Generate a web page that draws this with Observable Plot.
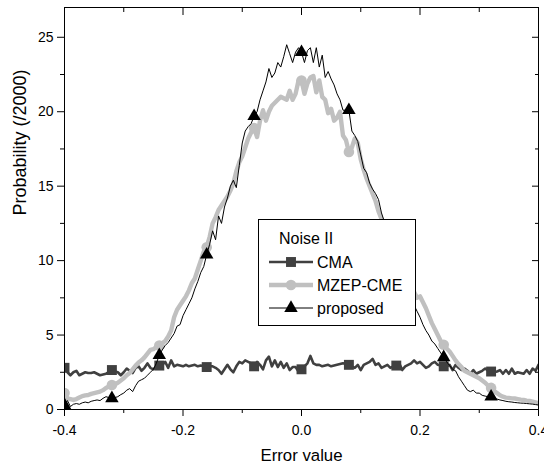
<!DOCTYPE html>
<html><head><meta charset="utf-8">
<script src="https://cdn.jsdelivr.net/npm/d3@7"></script>
<script src="https://cdn.jsdelivr.net/npm/@observablehq/plot@0.6"></script>
<style>
body{margin:0;background:#fff;font-family:"Liberation Sans",Arial,sans-serif;}
#wrap{position:relative;width:544px;height:469px;overflow:hidden;background:#fff;}
#legend{position:absolute;left:258px;top:219px;}
</style></head><body><div id="wrap"></div>
<script>
// Error value grid (step 0.005 from -0.4 to 0.4)
const errorValue = d3.range(161).map(i => +(-0.4 + i * 0.005).toFixed(3));

const cma = [
 2.8,2.5,2.3,2.5,2.6,2.3,2.4,2.5,2.45,2.45,
 2.5,2.4,2.3,2.35,2.4,2.5,2.65,2.55,2.5,2.3,
 2.5,2.75,2.6,2.45,2.8,2.9,2.6,2.8,3.1,2.8,
 2.7,2.9,2.95,3.0,3.2,2.8,3.3,2.9,3.0,2.95,
 2.9,3.0,2.9,2.95,3.0,2.9,2.95,2.9,2.85,2.9,
 2.9,2.8,2.65,2.4,2.7,3.0,2.7,2.5,2.9,3.2,
 3.1,3.3,3.2,3.1,2.9,3.2,3.0,2.7,3.3,3.55,
 2.9,3.3,2.85,3.2,2.8,3.1,2.65,2.85,2.85,2.55,
 2.7,2.9,3.1,3.6,3.1,3.0,3.0,2.9,2.95,3.0,
 2.9,2.95,3.0,3.05,3.1,3.05,3.0,2.9,2.8,3.0,
 2.65,3.0,3.1,3.2,3.4,3.0,3.1,2.8,2.9,3.0,
 2.8,2.9,2.95,3.1,2.65,2.9,3.0,3.1,3.3,3.1,
 3.2,3.0,2.8,2.9,3.1,3.2,3.0,2.95,2.9,2.9,
 3.0,2.65,3.0,2.8,2.65,2.75,2.6,2.4,2.65,2.4,
 2.5,2.6,2.75,2.6,2.55,2.5,2.55,2.65,2.4,2.65,
 2.4,2.75,2.4,2.5,2.45,2.4,2.65,2.4,2.75,2.6,
 3.0];

const mzep = [
 1.1,0.75,0.7,0.64,0.7,0.8,0.9,0.95,0.97,1.05,
 1.1,1.15,1.2,1.3,1.45,1.55,1.65,1.7,1.8,1.95,
 2.1,2.3,2.45,2.7,2.95,3.15,3.3,3.5,3.75,4.0,
 4.05,4.2,4.3,4.45,4.6,4.9,5.3,6.2,6.7,7.0,
 7.3,7.6,8.0,8.5,8.8,9.4,10.0,10.6,10.9,11.6,
 12.5,12.9,13.4,13.7,14.0,14.3,14.7,15.2,16.0,16.6,
 17.0,17.6,18.2,18.6,18.9,18.3,19.4,20.1,19.4,20.0,
 20.4,20.6,20.8,21.0,20.9,20.8,21.4,20.8,21.2,22.1,
 22.1,21.2,21.9,22.3,22.4,21.3,22.1,21.0,20.8,19.9,
 20.2,19.4,19.6,20.0,18.4,18.1,17.3,17.6,18.2,17.9,
 16.8,16.1,15.5,15.0,14.5,14.0,13.3,12.8,12.4,12.0,
 11.6,11.1,10.6,10.2,9.7,9.2,8.8,8.3,7.9,7.5,
 7.6,7.2,6.8,6.3,5.8,5.4,5.0,4.6,4.35,4.1,
 3.9,3.6,3.3,3.05,2.85,2.6,2.5,2.4,2.3,2.2,
 2.1,1.95,1.8,1.6,1.45,1.25,1.1,0.95,0.86,0.8,
 0.78,0.75,0.74,0.7,0.66,0.64,0.6,0.57,0.53,0.48,
 0.43];

const proposed = [
 0.3,0.6,0.2,0.35,0.4,0.35,0.45,0.5,0.45,0.55,
 0.6,0.64,0.6,0.75,0.86,0.8,0.75,0.8,0.86,1.0,
 1.1,1.3,1.4,1.2,1.6,1.9,2.0,2.1,2.3,2.5,
 2.7,3.1,3.65,4.0,4.3,4.5,4.8,5.1,5.6,5.7,
 6.3,6.7,7.1,7.5,8.1,8.6,9.2,9.6,10.4,11.1,
 12.0,11.4,13.0,12.5,13.6,14.2,15.0,15.4,14.9,16.4,
 17.9,18.7,19.0,19.2,19.7,20.0,20.8,21.4,22.0,22.9,
 22.3,22.6,23.3,23.0,23.7,24.5,23.9,23.3,24.0,24.3,
 24.0,23.3,24.1,24.3,23.3,24.3,23.0,23.8,22.3,22.7,
 22.2,21.8,21.2,20.8,20.1,20.1,20.1,18.7,18.4,18.0,
 17.1,16.2,15.9,15.2,14.8,14.5,14.1,13.2,12.6,12.0,
 11.4,10.8,10.2,9.6,9.1,8.5,8.0,7.5,7.0,6.6,
 6.2,5.7,5.3,5.0,4.6,4.4,4.1,3.8,3.5,3.2,
 2.95,2.7,2.6,2.2,1.9,1.6,1.3,1.2,1.3,1.1,
 1.1,0.95,0.9,0.86,0.86,0.75,0.7,0.64,0.6,0.55,
 0.52,0.5,0.47,0.45,0.43,0.42,0.4,0.38,0.36,0.33,
 0.3];

const markerX = [-0.4,-0.32,-0.24,-0.16,-0.08,0,0.08,0.16,0.24,0.32];
const xMajor = [-0.4,-0.2,0,0.2,0.4];
const xMinor = [-0.3,-0.1,0.1,0.3];
const yMajor = [0,5,10,15,20,25];
const yMinor = [2.5,7.5,12.5,17.5,22.5];
const seriesNames = ["CMA","MZEP-CME","proposed"];
const legendTitle = "Noise II";

const rows = errorValue.map((x, i) => ({x, cma: cma[i], mzep: mzep[i], proposed: proposed[i]}));
const markers = rows.filter(r => markerX.some(m => Math.abs(m - r.x) < 1e-9));

const FONT = '"Liberation Sans", Arial, sans-serif';
const cCMA = "#404040", cMZ = "#c0c0c0", cP = "#000";
const rTri = 5;

const chart = Plot.plot({
  width: 544, height: 469,
  marginLeft: 64, marginRight: 6, marginTop: 7, marginBottom: 60,
  style: {fontFamily: FONT, color: "#000", background: "#fff"},
  x: {domain: [-0.4, 0.4], axis: null},
  y: {domain: [0, 27], axis: null},
  marks: [
    Plot.line(rows, {x: "x", y: "cma", stroke: cCMA, strokeWidth: 2.6, clip: true}),
    Plot.dot(markers, {x: "x", y: "cma", symbol: "square", r: 5.6, fill: cCMA, clip: true}),
    Plot.line(rows, {x: "x", y: "mzep", stroke: cMZ, strokeWidth: 4.4, clip: true}),
    Plot.dot(markers, {x: "x", y: "mzep", symbol: "circle", r: 5.3, fill: cMZ, clip: true}),
    Plot.line(rows, {x: "x", y: "proposed", stroke: cP, strokeWidth: 1, clip: true}),
    Plot.dot(markers, {x: "x", y: "proposed", symbol: "triangle", r: rTri, fill: cP, clip: true}),
    Plot.frame({stroke: "#000"}),
    Plot.axisX({ticks: xMajor, tickSize: 7, tickPadding: 9, fontSize: 14, tickFormat: d => d.toFixed(1), label: null}),
    Plot.axisX({ticks: xMinor, tickSize: 4, tickFormat: () => "", label: null}),
    Plot.axisX({anchor: "top", ticks: xMajor, tickSize: -7, tickFormat: () => "", label: null}),
    Plot.axisX({anchor: "top", ticks: xMinor, tickSize: -4, tickFormat: () => "", label: null}),
    Plot.axisY({ticks: yMajor, tickSize: 7, tickPadding: 4, fontSize: 14, tickFormat: d => String(d), label: null}),
    Plot.axisY({ticks: yMinor, tickSize: 4, tickFormat: () => "", label: null}),
    Plot.axisY({anchor: "right", ticks: yMajor, tickSize: -7, tickFormat: () => "", label: null}),
    Plot.axisY({anchor: "right", ticks: yMinor, tickSize: -4, tickFormat: () => "", label: null}),
    Plot.text(["Error value"], {text: d => d, frameAnchor: "bottom", dy: 51, fontSize: 16.8, fill: "#000"}),
    Plot.text(["Probability (/2000)"], {text: d => d, frameAnchor: "left", rotate: -90, dx: -44, dy: 7, fontSize: 18, fill: "#000"})
  ]
});

const wrap = document.getElementById("wrap");
wrap.appendChild(chart);

// Legend box
const lg = d3.select(wrap).append("svg").attr("id", "legend")
  .attr("width", 159).attr("height", 108)
  .style("font-family", FONT);
lg.append("rect").attr("x", 0.5).attr("y", 0.5).attr("width", 157).attr("height", 106)
  .attr("fill", "#fff").attr("stroke", "#000").attr("stroke-width", 1);
lg.append("text").attr("x", 21).attr("y", 25).attr("font-size", 16).text(legendTitle);
const legendRows = [
  {name: seriesNames[0], color: cCMA, width: 2.6, sym: d3.symbolSquare, r: 5.6},
  {name: seriesNames[1], color: cMZ, width: 4.4, sym: d3.symbolCircle, r: 5.3},
  {name: seriesNames[2], color: cP, width: 1, sym: d3.symbolTriangle, r: rTri}
];
legendRows.forEach((d, i) => {
  const cy = 43 + i * 23;
  lg.append("line").attr("x1", 11).attr("x2", 55).attr("y1", cy).attr("y2", cy)
    .attr("stroke", d.color).attr("stroke-width", d.width);
  lg.append("path").attr("transform", `translate(33,${cy})`)
    .attr("d", d3.symbol(d.sym, Math.PI * d.r * d.r)()).attr("fill", d.color);
  lg.append("text").attr("x", 59).attr("y", cy + 6).attr("font-size", 16).text(d.name);
});
</script></body></html>
